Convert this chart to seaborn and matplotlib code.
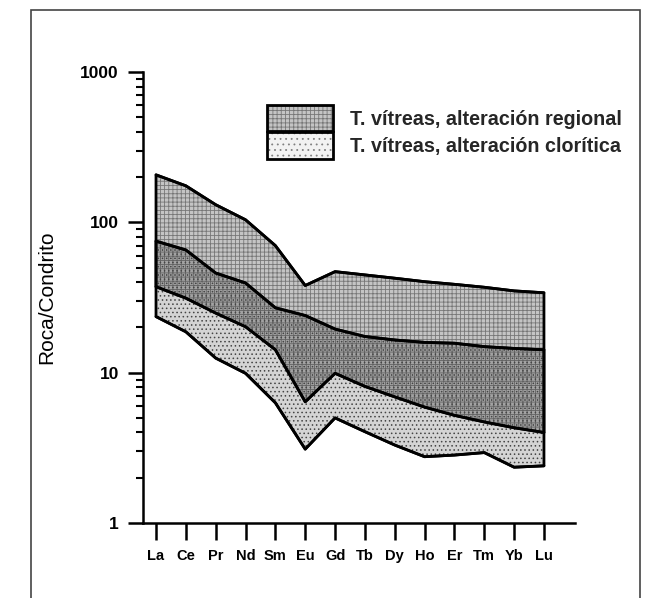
import numpy as np
import pandas as pd
import matplotlib
matplotlib.use("Agg")
import matplotlib.pyplot as plt
import seaborn as sns
from matplotlib.patches import Patch, Rectangle
from matplotlib.ticker import FixedLocator, LogLocator, NullFormatter

# ---------------- data ----------------
elements = ['La', 'Ce', 'Pr', 'Nd', 'Sm', 'Eu', 'Gd', 'Tb', 'Dy', 'Ho', 'Er', 'Tm', 'Yb', 'Lu']
regional_max = [207, 175, 131, 104, 70, 38, 47, 44.7, 42.5, 40.3, 38.7, 37, 35, 34]
regional_min = [37.3, 31.3, 24.9, 20.2, 14.2, 6.4, 9.9, 8.1, 6.9, 5.9, 5.2, 4.7, 4.3, 4.0]
chloritic_max = [75, 65.5, 46, 39.5, 27, 24, 19.5, 17.4, 16.5, 15.9, 15.7, 14.9, 14.5, 14.2]
chloritic_min = [23.6, 18.7, 12.5, 9.9, 6.3, 3.1, 5.0, 4.05, 3.3, 2.76, 2.83, 2.94, 2.35, 2.4]
y_ticks = [1, 10, 100, 1000]
y_tick_labels = ['1', '10', '100', '1000']
label_regional = 'T. vítreas, alteración regional'
label_chloritic = 'T. vítreas, alteración clorítica'
y_label = 'Roca/Condrito'

# ---------------- style ----------------
sns.set_theme(style='white')
plt.rcParams['font.family'] = ['Liberation Sans', 'DejaVu Sans']
plt.rcParams['hatch.linewidth'] = 0.6

x = np.arange(len(elements))
df = pd.DataFrame({
    'x': np.tile(x, 4),
    'value': regional_max + regional_min + chloritic_max + chloritic_min,
    'line': (['rmax'] * len(x) + ['rmin'] * len(x) + ['cmax'] * len(x) + ['cmin'] * len(x)),
})

W, H = 654, 598
fig = plt.figure(figsize=(W / 100, H / 100), dpi=100)
ax_l, ax_r, ax_b, ax_t = 142.7, 575, 523, 72
ax = fig.add_axes([ax_l / W, 1 - ax_b / H, (ax_r - ax_l) / W, (ax_b - ax_t) / H])

# fills
regional_face = '#c4c4c4'
regional_hatch = '#767676'
chl_hatch = '#454545'
ax.fill_between(x, regional_min, regional_max, facecolor=regional_face,
                edgecolor=regional_hatch, hatch='++++', linewidth=0, zorder=1)
ax.fill_between(x, chloritic_min, chloritic_max, facecolor=(0, 0, 0, 0.17),
                edgecolor=chl_hatch, hatch='....', linewidth=0, zorder=2)
# outlines (with vertical end edges)
ax.fill_between(x, regional_min, regional_max, facecolor='none',
                edgecolor='black', linewidth=2.0, zorder=3)
ax.fill_between(x, chloritic_min, chloritic_max, facecolor='none',
                edgecolor='black', linewidth=2.0, zorder=3)
sns.lineplot(data=df, x='x', y='value', units='line', estimator=None,
             color='black', linewidth=2.0, ax=ax, zorder=4, legend=False)

# axes
ax.set_yscale('log')
ax.set_ylim(1, 1000)
ax.set_xlim(-0.446, 14.04)
ax.set_xticks(x)
ax.set_xticklabels(elements, fontsize=10.5, fontweight='bold')
ax.yaxis.set_major_locator(FixedLocator(y_ticks))
ax.set_yticklabels(y_tick_labels, fontsize=12.5, fontweight='bold')
ax.yaxis.set_minor_locator(LogLocator(base=10, subs=np.arange(2, 10)))
ax.yaxis.set_minor_formatter(NullFormatter())
ax.tick_params(axis='y', which='major', direction='out', length=10.6, width=1.8,
               pad=6.5, left=True, color='black', labelcolor='black')
ax.tick_params(axis='y', which='minor', direction='out', length=5, width=1.5,
               left=True, color='black')
ax.tick_params(axis='x', which='major', direction='out', length=12, width=1.8,
               pad=7, bottom=True, color='black', labelcolor='black')
ax.tick_params(axis='x', which='minor', bottom=False)
for s in ['top', 'right']:
    ax.spines[s].set_visible(False)
for s in ['left', 'bottom']:
    ax.spines[s].set_color('black')
    ax.spines[s].set_linewidth(1.8)
ax.set_xlabel('')
ax.set_ylabel(y_label, fontsize=15, color='black')
ax.yaxis.set_label_coords((56 - ax_l) / (ax_r - ax_l), 0.5)
ax.set_facecolor('white')

# legend
h_reg = (Patch(facecolor=regional_face, edgecolor=regional_hatch, hatch='++++', linewidth=0),
         Patch(facecolor='none', edgecolor='black', linewidth=2.0))
h_chl = (Patch(facecolor=(0, 0, 0, 0.05), edgecolor='#808080', hatch='...', linewidth=0),
         Patch(facecolor='none', edgecolor='black', linewidth=2.0))
fs = 14.2
px = fs * 100 / 72
ax.legend([h_reg, h_chl], [label_regional, label_chloritic],
          loc='upper left', bbox_to_anchor=(267 / W, 1 - 105 / H),
          bbox_transform=fig.transFigure, frameon=False,
          prop={'size': fs, 'weight': 'bold'},
          handlelength=66 / px, handleheight=33 / px,
          labelspacing=1 / px, handletextpad=17 / px,
          borderpad=0, borderaxespad=0)

# page frame
fig.add_artist(Rectangle((31 / W, -0.05), (640 - 31) / W, 1.05 - 10 / H,
                         transform=fig.transFigure, fill=False,
                         edgecolor='#444444', linewidth=1.2))

fig.savefig('out.png', dpi=100, facecolor='white')
